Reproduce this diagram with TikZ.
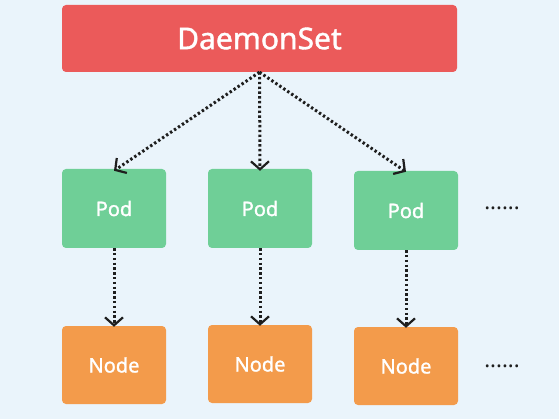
\documentclass[tikz,border=0pt]{standalone}
\usepackage{fontspec}
\setmainfont{Noto Sans}
\newfontfamily\boxfont{Noto Sans}[FakeBold=1.3]
\usetikzlibrary{positioning, arrows.meta}
\definecolor{bgblue}{HTML}{EAF4FB}
\definecolor{dsred}{HTML}{EB5A5A}
\definecolor{podgreen}{HTML}{6FCF97}
\definecolor{nodeorange}{HTML}{F39B4B}
\definecolor{dotgray}{HTML}{1E1E1E}

\begin{document}
\begin{tikzpicture}[
  x=1pt, y=-1pt,
  box/.style={rounded corners=4pt, inner sep=0pt, text=white, font=\boxfont\fontsize{20}{24}\selectfont},
  ds/.style={box, fill=dsred, minimum width=395pt, minimum height=67pt, font=\boxfont\fontsize{30}{36}\selectfont},
  pod/.style={box, fill=podgreen, minimum width=104pt, minimum height=79pt},
  worker/.style={box, fill=nodeorange, minimum width=104pt, minimum height=78pt},
  more/.style={text=dotgray, font=\fontsize{22}{26}\selectfont\bfseries},
  flow/.style={-{Straight Barb[length=8pt, width=18pt, line width=2.2pt]}, dotgray,
    line width=3pt, dash pattern=on 2.4pt off 2.4pt},
]
\useasboundingbox[fill=bgblue] (0,0) rectangle (559,419);
% ---- top: the daemonset ----
\node[ds] (daemon) at (259.5,38.5) {DaemonSet};
% ---- middle: one pod per node ----
\node[pod] (pod1) at (114,208.5) {Pod};
\node[pod] (pod2) at (260,208.5) {Pod};
\node[pod] (pod3) at (406,210.5) {Pod};
\node[more] (podmore) at (502,208) {......};
% ---- bottom: the nodes ----
\node[worker] (node1) at (114,365) {Node};
\node[worker] (node2) at (260,364) {Node};
\node[worker] (node3) at (406,366) {Node};
\node[more] (nodemore) at (502,366) {......};
% ---- edges ----
\draw[flow] (daemon.south) -- ([yshift=-2pt]pod1.north);
\draw[flow] (daemon.south) -- ([yshift=-2pt]pod2.north);
\draw[flow] (daemon.south) -- ([yshift=-1pt]pod3.north);
\draw[flow] (pod1.south) -- ([yshift=-1pt]node1.north);
\draw[flow] (pod2.south) -- ([yshift=-1pt]node2.north);
\draw[flow] (pod3.south) -- ([yshift=-1pt]node3.north);
\end{tikzpicture}
\end{document}
